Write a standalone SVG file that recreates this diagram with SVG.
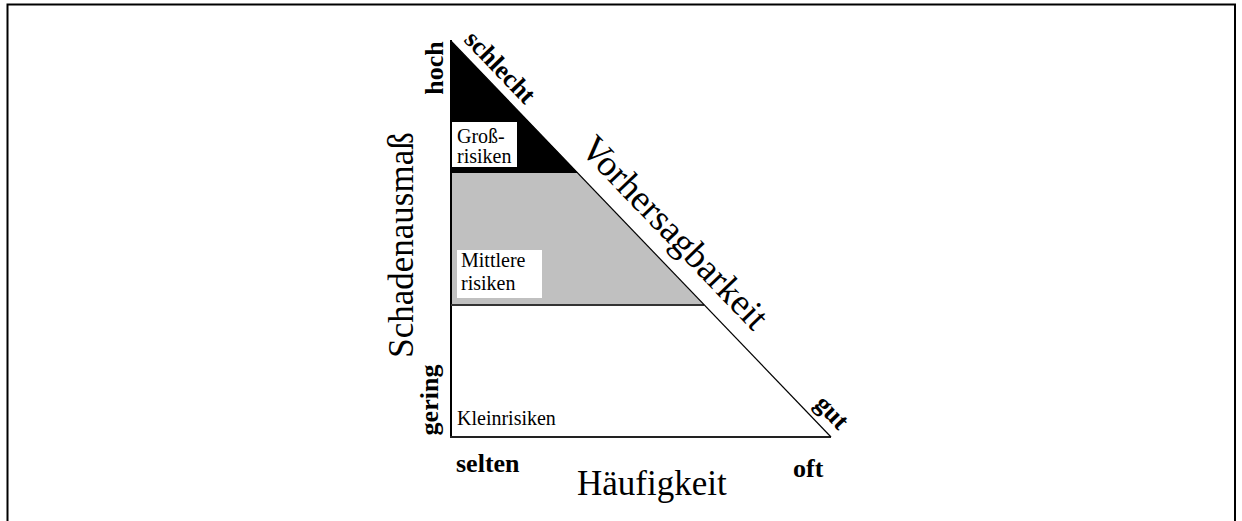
<svg xmlns="http://www.w3.org/2000/svg" width="1242" height="521" viewBox="0 0 1242 521">
  <style>
    .lbl { font-family: "Liberation Serif", "Times New Roman", serif; fill: #000; }
    .axis { font-size: 35px; }
    .end { font-size: 26px; font-weight: bold; }
    .zone { font-size: 20px; }
  </style>
  <rect x="0" y="0" width="1242" height="521" fill="#fff"/>
  <!-- page frame, open at the bottom -->
  <path d="M7.5,521 V4.5 H1235 V521" fill="none" stroke="#000" stroke-width="2"/>

  <!-- risk zones of the triangle -->
  <g id="zone-gross">
    <polygon points="451,41 578,173 451,173" fill="#000"/>
    <rect x="452" y="122" width="65" height="45" fill="#fff"/>
    <text class="lbl zone" x="457" y="143">Groß-</text>
    <text class="lbl zone" x="457" y="163">risiken</text>
  </g>
  <g id="zone-mittel">
    <polygon points="451,173 578,173 704,305 451,305" fill="#c0c0c0"/>
    <rect x="457" y="250" width="85" height="48" fill="#fff"/>
    <text class="lbl zone" x="461" y="267">Mittlere</text>
    <text class="lbl zone" x="461" y="290">risiken</text>
  </g>
  <g id="zone-klein">
    <text class="lbl zone" x="457" y="425">Kleinrisiken</text>
  </g>

  <!-- triangle edges -->
  <g id="connectors" fill="none">
    <line x1="451" y1="40" x2="451" y2="438" stroke="#000" stroke-width="2"/>
    <line x1="450" y1="437" x2="831" y2="437" stroke="#222" stroke-width="2"/>
    <line x1="451" y1="305" x2="704" y2="305" stroke="#333" stroke-width="2"/>
    <line x1="451" y1="41" x2="831" y2="437" stroke="#000" stroke-width="1.2"/>
  </g>

  <!-- axis labels -->
  <g id="axis-schaden">
    <text class="lbl axis" text-anchor="middle" transform="translate(413,245) rotate(-90)">Schadenausmaß</text>
    <text class="lbl end" text-anchor="middle" transform="translate(443,68) rotate(-90)">hoch</text>
    <text class="lbl end" text-anchor="middle" transform="translate(438,400) rotate(-90)">gering</text>
  </g>
  <g id="axis-haeufigkeit">
    <text class="lbl axis" x="577" y="495">Häufigkeit</text>
    <text class="lbl end" x="456" y="472">selten</text>
    <text class="lbl end" x="793" y="477">oft</text>
  </g>
  <g id="axis-vorhersage">
    <text class="lbl axis" text-anchor="middle" style="font-size:37px" transform="translate(666,241) rotate(46.18)">Vorhersagbarkeit</text>
    <text class="lbl end" text-anchor="middle" transform="translate(494,73) rotate(46.18)">schlecht</text>
    <text class="lbl end" text-anchor="middle" transform="translate(826,418) rotate(46.18)">gut</text>
  </g>
</svg>
